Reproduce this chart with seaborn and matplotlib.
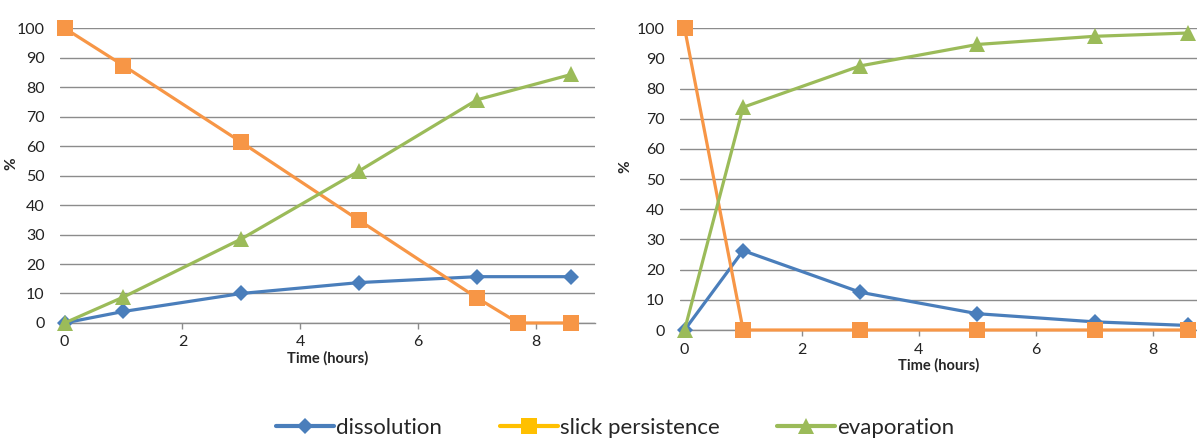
import numpy as np
import pandas as pd
import seaborn as sns
import matplotlib.pyplot as plt
from matplotlib.lines import Line2D

# values
time_left = [0, 1, 3, 5, 7, 8.6]
time_left_slick = [0, 1, 3, 5, 7, 7.7, 8.6]
dissolution_left = [0, 3.9, 10, 13.7, 15.7, 15.7]
slick_left = [100, 87.3, 61.3, 34.8, 8.5, 0, 0]
evaporation_left = [0, 8.8, 28.5, 51.6, 75.7, 84.3]

time_right = [0, 1, 3, 5, 7, 8.6]
dissolution_right = [0, 26.3, 12.5, 5.4, 2.7, 1.5]
slick_right = [100, 0, 0, 0, 0, 0]
evaporation_right = [0, 73.8, 87.5, 94.6, 97.3, 98.4]

series_names = ["dissolution", "slick persistence", "evaporation"]
line_colors = ["#4A7EBB", "#F79646", "#9BBB59"]
legend_colors = ["#4A7EBB", "#FFC000", "#9BBB59"]
markers = ["D", "s", "^"]
marker_sizes = [8.5, 11, 12]

sns.set_theme(style="white")
plt.rcParams['font.family'] = ['Lato', 'DejaVu Sans']

fig = plt.figure(figsize=(11.97, 4.4), dpi=100)
ax_l = fig.add_axes([0.050, 0.266, 0.447, 0.670])
ax_r = fig.add_axes([0.568, 0.250, 0.432, 0.686])

panels = [
    (ax_l, [(time_left, dissolution_left), (time_left_slick, slick_left), (time_left, evaporation_left)], 9.0, -0.078),
    (ax_r, [(time_right, dissolution_right), (time_right, slick_right), (time_right, evaporation_right)], 8.75, -0.091),
]

for ax, data, xmax, lab_x in panels:
    for (x, y), c, m, ms in zip(data, line_colors, markers, marker_sizes):
        sns.lineplot(x=x, y=y, ax=ax, color=c, marker=m, markersize=ms,
                     markeredgewidth=0, linewidth=2.3, clip_on=False, zorder=3)
    ax.set_xlim(-0.08, xmax)
    ax.set_ylim(0, 100)
    ax.set_yticks(np.arange(0, 101, 10))
    ax.set_xticks([0, 2, 4, 6, 8])
    ax.yaxis.grid(True, color="#8c8c8c", linewidth=1.0)
    ax.xaxis.grid(False)
    for s in ["top", "right", "left"]:
        ax.spines[s].set_visible(False)
    ax.spines["bottom"].set_color("#8c8c8c")
    ax.spines["bottom"].set_linewidth(1.0)
    ax.tick_params(axis="x", direction="out", length=4, width=1, color="#8c8c8c",
                   bottom=True, labelsize=11.5, pad=5, labelcolor="#222222")
    ax.tick_params(axis="y", length=0, labelsize=11.5, pad=11, labelcolor="#222222")
    ax.set_xlabel("Time (hours)", fontsize=10.5, fontweight="bold", labelpad=1)
    ax.set_ylabel("%", fontsize=11, fontweight="bold")
    ax.yaxis.set_label_coords(lab_x, 0.54)

handles = [Line2D([], [], color=c, marker=m, markersize=ms, markeredgewidth=0, linewidth=3)
           for c, m, ms in zip(legend_colors, markers, marker_sizes)]
fig.legend(handles, series_names, loc="center", bbox_to_anchor=(0.514, 0.027), ncol=3,
           frameon=False, fontsize=16, handlelength=2.6, handletextpad=0.1, columnspacing=2.6)

fig.savefig("out.png", dpi=100)
